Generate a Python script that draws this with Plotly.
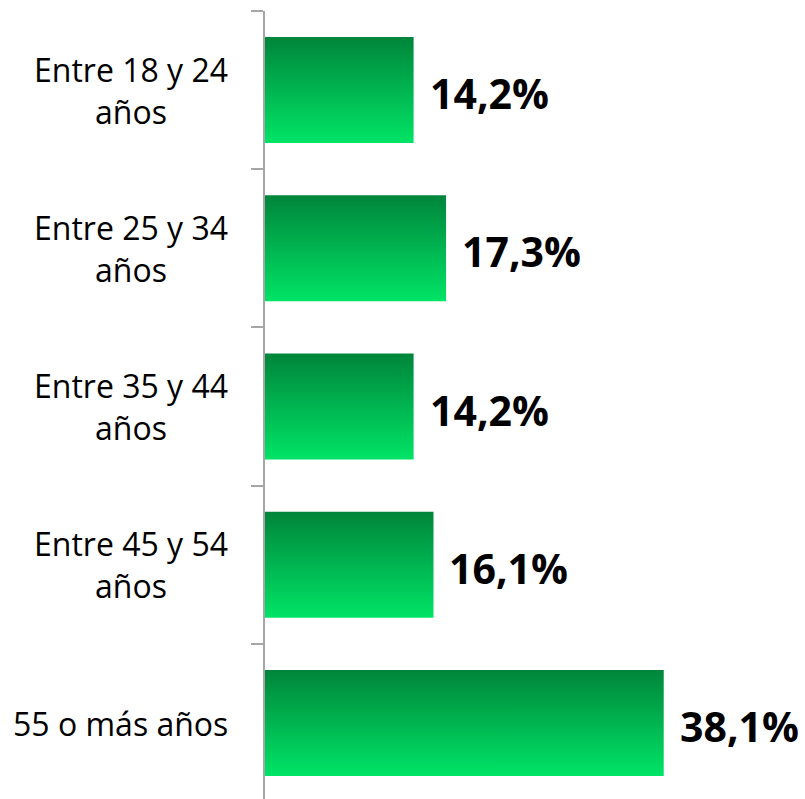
import plotly.graph_objects as go

categories = ["Entre 18 y 24<br>años", "Entre 25 y 34<br>años", "Entre 35 y 44<br>años",
              "Entre 45 y 54<br>años", "55 o más años"]
values = [14.2, 17.3, 14.2, 16.1, 38.1]
value_labels = ["14,2%", "17,3%", "14,2%", "16,1%", "38,1%"]

HALF = 0.335
fig = go.Figure()
for i, v in enumerate(values):
    fig.add_trace(go.Scatter(
        x=[0, v, v, 0, 0],
        y=[i - HALF, i - HALF, i + HALF, i + HALF, i - HALF],
        mode="lines", line=dict(width=0),
        fill="toself",
        fillgradient=dict(type="vertical",
                          colorscale=[[0, "#00e466"], [1, "#00853a"]]),
        hoverinfo="skip", showlegend=False,
    ))
    fig.add_annotation(x=v, y=i, xref="x", yref="y", text="<b>%s</b>" % value_labels[i],
                       showarrow=False, xanchor="left", xshift=14, yshift=-3,
                       font=dict(family="Open Sans", size=41, color="#000000"))
    fig.add_annotation(x=0, y=i, xref="paper", yref="y", text=categories[i],
                       showarrow=False, xanchor="right", align="center", xshift=-35,
                       font=dict(family="Open Sans", size=32, color="#000000"))

fig.update_layout(
    width=805, height=799,
    margin=dict(l=265, r=0, t=11, b=0),
    paper_bgcolor="white", plot_bgcolor="white",
    xaxis=dict(range=[0, 51.6], visible=False, fixedrange=True),
    yaxis=dict(range=[4.48, -0.5], tickvals=[-0.5, 0.5, 1.5, 2.5, 3.5, 4.5],
               ticktext=[""] * 6, ticks="outside", ticklen=12, tickwidth=1.5,
               tickcolor="#a6a6a6", showline=True, linecolor="#a6a6a6", linewidth=1.5,
               showgrid=False, zeroline=False, fixedrange=True),
)
fig.write_html("out.html", config={"displayModeBar": False},
               post_script="document.body.style.margin='0';document.body.style.overflow='hidden';")
